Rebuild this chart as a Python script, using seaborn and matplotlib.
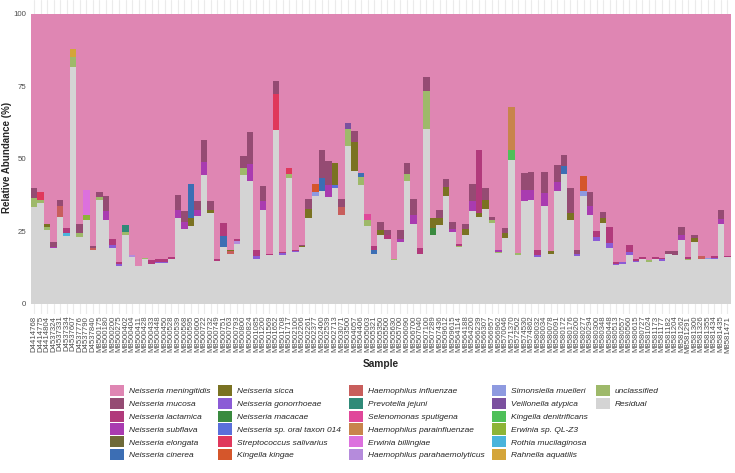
import numpy as np
import pandas as pd
import seaborn as sns
import matplotlib.pyplot as plt
from matplotlib.patches import Patch

sns.set_style("white")
plt.rcParams['font.family'] = ['Liberation Sans', 'DejaVu Sans']

# sample names (x axis)
d_samples = ["D4414768", "D4414775", "D4414804", "D4537324", "D4537331",
             "D4537334", "D4537607", "D4537776", "D4537790", "D4537840"]
m_samples = ["M8500175", "M8500180", "M8500200", "M8500275", "M8500402", "M8500404",
             "M8500411", "M8500428", "M8500433", "M8500448", "M8500450", "M8500528",
             "M8500539", "M8500568", "M8500595", "M8500600", "M8500722", "M8500732",
             "M8500749", "M8500751", "M8500763", "M8500793", "M8500800", "M8500824",
             "M8501085", "M8501200", "M8501569", "M8501652", "M8501708", "M8501717",
             "M8502100", "M8502206", "M8502261", "M8502377", "M8502400", "M8502539",
             "M8502713", "M8503071", "M8503500", "M8504057", "M8504406", "M8505003",
             "M8505321", "M8505350", "M8505500", "M8505630", "M8505700", "M8506090",
             "M8506700", "M8507040", "M8507100", "M8507289", "M8507436", "M8509612",
             "M8509615", "M8564114", "M8564188", "M8564200", "M8566239", "M8566307",
             "M8566957", "M8566962", "M8570046", "M8571370", "M8572502", "M8574530",
             "M8574862", "M8580032", "M8580034", "M8580078", "M8580091", "M8580172",
             "M8580176", "M8580200", "M8580277", "M8580294", "M8580300", "M8580348",
             "M8580448", "M8580513", "M8580557", "M8580560", "M8580615", "M8580727",
             "M8581024", "M8581173", "M8581177", "M8581182", "M8581204", "M8581262",
             "M8581291", "M8581300", "M8581326", "M8581355", "M8581434", "M8581435",
             "M8581471"]
samples = d_samples + m_samples

taxa = ["Neisseria meningitidis", "Neisseria mucosa", "Neisseria lactamica",
        "Neisseria subflava", "Neisseria elongata", "Neisseria cinerea",
        "Neisseria sicca", "Neisseria gonorrhoeae", "Neisseria macacae",
        "Neisseria sp. oral taxon 014", "Streptococcus salivarius", "Kingella kingae",
        "Haemophilus influenzae", "Prevotella jejuni", "Selenomonas sputigena",
        "Haemophilus parainfluenzae", "Erwinia billingiae", "Haemophilus parahaemolyticus",
        "Simonsiella muelleri", "Veillonella atypica", "Kingella denitrificans",
        "Erwinia sp. QL-Z3", "Rothia mucilaginosa", "Rahnella aquatilis",
        "unclassified", "Residual"]
colors = ["#DF86B3", "#954B73", "#B13A7B", "#A93BB0", "#6E6A38", "#3C6EB4",
          "#7A7222", "#8B5BD6", "#3A8A3F", "#5A6FDA", "#E0385C", "#D5562B",
          "#C85E5C", "#2F8A78", "#E0479A", "#C8844C", "#DC70DE", "#B58BDC",
          "#8E9AE0", "#7B509F", "#4EC059", "#8DB437", "#4AB4DC", "#D4A53A",
          "#9EB96A", "#D4D4D4"]

# residual per sample (%)
residual = [33.4, 34.8, 25.6, 19.2, 29.9, 23.3, 81.6, 23.1, 29.0, 18.7,
            35.7, 29.0, 19.1, 13.2, 23.7, 16.2, 13.0, 15.5, 13.9, 14.1,
            14.0, 15.6, 29.6, 25.8, 27.0, 30.2, 44.5, 31.3, 14.9, 19.6,
            17.3, 20.6, 44.5, 42.3, 15.5, 32.5, 16.9, 60.0, 16.9, 43.4,
            17.8, 19.6, 29.6, 37.1, 38.8, 36.9, 39.8, 30.8, 54.5, 45.9,
            40.9, 26.8, 17.2, 23.9, 22.2, 15.2, 21.4, 42.5, 27.7, 17.2,
            60.4, 23.8, 27.1, 37.1, 24.7, 19.5, 23.9, 32.1, 29.9, 32.7,
            27.8, 17.6, 22.6, 49.7, 16.8, 35.6, 35.7, 16.1, 33.6, 17.3,
            38.8, 44.9, 29.0, 16.6, 37.3, 30.8, 21.8, 27.8, 19.3, 13.5,
            13.9, 17.0, 14.5, 15.4, 14.5, 15.4, 14.9, 17.1, 16.9, 21.9,
            15.2, 21.4, 15.6, 15.5, 15.5, 27.7, 16.0]

# other taxa: {sample number (1-based): abundance}
mucosa = {1: 3.5, 4: 1.8, 5: 2.0, 8: 3.2, 10: 0.8, 11: 1.8, 12: 5.2, 23: 5.2, 24: 4.0,
          26: 3.3, 27: 7.8, 28: 3.1, 33: 4.1, 34: 11.1, 36: 5.1, 38: 4.3, 42: 0.4,
          43: 3.6, 45: 9.6, 46: 8.3, 48: 2.8, 50: 3.9, 54: 2.5, 55: 1.4, 57: 3.1,
          58: 3.7, 59: 5.5, 61: 4.8, 63: 2.9, 64: 2.9, 65: 2.3, 67: 1.9, 68: 6.0,
          70: 4.1, 71: 1.0, 73: 1.7, 76: 5.9, 77: 6.3, 79: 7.2, 81: 5.8, 82: 4.0,
          83: 8.7, 84: 1.6, 86: 5.0, 88: 2.3, 98: 1.3, 99: 1.2, 100: 2.9, 102: 1.3,
          106: 2.9}
lactamica = {6: 1.7, 13: 2.2, 14: 0.7, 19: 1.1, 20: 1.0, 21: 0.9, 22: 0.5, 29: 0.6,
             30: 4.6, 32: 0.8, 35: 2.1, 37: 0.4, 39: 0.5, 41: 0.4, 53: 1.6, 55: 1.7,
             60: 2.1, 66: 0.6, 69: 21.6, 78: 1.6, 87: 2.0, 89: 5.4, 90: 0.6, 92: 2.4,
             93: 0.4, 94: 0.7, 96: 0.6, 97: 0.4, 101: 0.5, 105: 0.7, 107: 0.6}
subflava = {4: 0.4, 12: 2.9, 23: 2.9, 24: 2.3, 26: 2.1, 27: 4.3, 34: 6.0, 36: 2.9,
            46: 4.2, 57: 0.8, 59: 3.1, 65: 1.1, 68: 3.3, 72: 0.5, 76: 3.6, 77: 3.5,
            79: 4.6, 81: 3.2, 86: 2.8, 100: 1.8, 106: 1.7}
cinerea = {25: 11.8, 30: 3.7, 45: 4.6, 51: 1.5, 53: 1.3, 82: 2.5}
sicca = {3: 1.2, 25: 2.6, 28: 1.2, 31: 0.6, 42: 0.4, 43: 3.1, 47: 7.5, 50: 9.8,
         54: 1.7, 62: 3.4, 63: 2.5, 64: 3.2, 67: 1.9, 69: 1.4, 70: 3.2, 73: 1.9,
         80: 0.8, 83: 2.3, 88: 1.7, 102: 1.2}
gonorrhoeae = {13: 1.1, 14: 0.5, 17: 0.2, 20: 0.4, 21: 0.4, 35: 1.1, 39: 0.6, 41: 0.5,
               78: 0.8, 84: 0.5, 87: 1.2, 89: 1.7, 90: 0.4, 91: 0.6, 92: 1.0, 93: 0.4,
               97: 0.4, 105: 0.4}
macacae = {62: 2.4}
sp_oral_014 = {47: 1.3}
strep_salivarius = {2: 2.6, 38: 12.4, 40: 1.9}
kingella_kingae = {44: 2.9, 85: 5.4}
h_influenzae = {5: 4.0, 10: 0.6, 31: 0.8, 48: 2.6, 103: 1.0}
prevotella = {15: 2.3}
selenomonas = {52: 2.2}
h_parainfluenzae = {74: 14.8}
erwinia_billingiae = {9: 8.9}
h_parahaemolyticus = {16: 0.6, 32: 1.1}
simonsiella = {44: 1.4, 85: 1.5, 104: 0.3}
veillonella = {49: 2.0}
kingella_denitrificans = {74: 3.4}
erwinia_sp = {9: 1.5}
rothia = {6: 1.2}
rahnella = {7: 2.8}
unclassified = {1: 3.1, 2: 1.1, 3: 0.9, 7: 3.4, 8: 1.4, 11: 1.0, 15: 1.1, 18: 0.2,
                33: 2.3, 40: 1.5, 49: 5.8, 51: 2.7, 52: 2.0, 56: 0.4, 58: 2.4,
                61: 13.1, 66: 0.6, 71: 1.2, 72: 0.4, 75: 0.8, 95: 0.7, 101: 0.4}

minor = [mucosa, lactamica, subflava, {}, cinerea, sicca, gonorrhoeae, macacae,
         sp_oral_014, strep_salivarius, kingella_kingae, h_influenzae, prevotella,
         selenomonas, h_parainfluenzae, erwinia_billingiae, h_parahaemolyticus,
         simonsiella, veillonella, kingella_denitrificans, erwinia_sp, rothia,
         rahnella, unclassified]

# long table
n = len(samples)
tab = np.zeros((n, len(taxa)))
for j, d in enumerate(minor):
    for k, v in d.items():
        tab[k - 1, j + 1] = v
tab[:, -1] = residual
tab[:, 0] = 100 - tab[:, 1:].sum(axis=1)   # N. meningitidis = rest of the 100 %

rows = []
for i in range(n):
    for j, t in enumerate(taxa):
        rows.append((i, t, tab[i, j]))
df = pd.DataFrame(rows, columns=["pos", "taxon", "abundance"])

fig = plt.figure(figsize=(7.35, 4.73), dpi=100)
ax = fig.add_axes([30.7 / 735, 159 / 473, 700 / 735, 314 / 473])

sns.histplot(data=df, x="pos", weights="abundance", hue="taxon", hue_order=taxa,
             palette=dict(zip(taxa, colors)), multiple="stack", discrete=True,
             shrink=1, alpha=1, linewidth=0, antialiased=False, legend=False, ax=ax)

ax.set_xlim(-0.5, n - 0.5)
ax.set_ylim(-3.5, 104.8)
ax.set_yticks([0, 25, 50, 75, 100])
ax.set_yticklabels(["0", "25", "50", "75", "100"])
ax.set_xticks(range(n))
ax.set_xticklabels(samples, rotation=90, fontsize=5.6, color="#4D4D4D")
ax.tick_params(axis="y", labelsize=5.7, colors="#4D4D4D", length=0, pad=3.4)
ax.tick_params(axis="x", length=0, pad=1.2)
for s in ax.spines.values():
    s.set_visible(False)
ax.grid(axis="x", color="#EBEBEB", linewidth=0.8)
ax.set_axisbelow(True)

ax.set_ylabel("Relative Abundance (%)", fontsize=7, fontweight="bold")
ax.yaxis.set_label_coords(-0.027, 0.5)
ax.set_xlabel("Sample", fontsize=7.3, fontweight="bold")
ax.xaxis.set_label_coords(0.5, -0.143)

handles = [Patch(facecolor=c, edgecolor="none") for c in colors]
labels = list(taxa)
for _ in range(4):
    handles.append(Patch(facecolor="none", edgecolor="none"))
    labels.append("")
fig.legend(handles, labels, ncol=5, loc="upper left",
           bbox_to_anchor=(110 / 735, 1 - 385 / 473), frameon=False,
           prop={"style": "italic", "size": 6.0}, handlelength=1.68,
           handleheight=1.68, handletextpad=0.6, labelspacing=0.2,
           columnspacing=0.93, borderpad=0, borderaxespad=0)

fig.savefig("out.png", dpi=100)
